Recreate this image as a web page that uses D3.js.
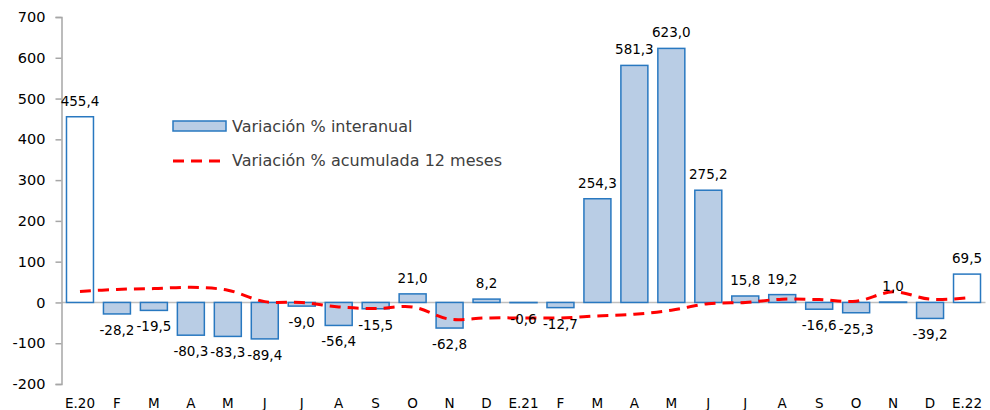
<!DOCTYPE html>
<html>
<head>
<meta charset="utf-8">
<script src="https://cdn.jsdelivr.net/npm/d3@7"></script>
<style>
  body { margin: 0; background: #fff; }
  svg { display: block; font-family: "DejaVu Sans", sans-serif; }
</style>
</head>
<body>
<script>
// Months, Jan 2020 to Jan 2022
const months = ["E.20", "F", "M", "A", "M", "J", "J", "A", "S", "O", "N", "D",
                "E.21", "F", "M", "A", "M", "J", "J", "A", "S", "O", "N", "D", "E.22"];

// Variación % interanual (bars)
const interanual = [455.4, -28.2, -19.5, -80.3, -83.3, -89.4, -9.0, -56.4, -15.5, 21.0, -62.8, 8.2,
                    -0.6, -12.7, 254.3, 581.3, 623.0, 275.2, 15.8, 19.2, -16.6, -25.3, 1.0, -39.2, 69.5];

// Variación % acumulada 12 meses (dashed line)
const acumulada = [27, 32, 34, 37, 30, 2, 0, -11, -15, -11, -41, -38,
                   -38, -38, -33, -29, -19, -3, 0, 8, 7, 3, 26, 8, 11];

const yTicks = [-200, -100, 0, 100, 200, 300, 400, 500, 600, 700];

const width = 990;
const height = 410;

const svg = d3.select("body").append("svg")
    .attr("width", width)
    .attr("height", height);

const x = d3.scaleBand()
    .domain(d3.range(months.length))
    .range([61.5, 985.5])
    .paddingInner(0.27)
    .paddingOuter(0.135);

const y = d3.scaleLinear()
    .domain([-200, 700])
    .range([384, 17]);

// plain hyphen and decimal comma, like the original
const fmt = v => d3.format(".1f")(v).replace(".", ",").replace("\u2212", "-");
const fmtTick = v => d3.format("d")(v).replace("\u2212", "-");

// zero line
svg.append("line")
    .attr("x1", x.range()[0]).attr("x2", x.range()[1])
    .attr("y1", y(0)).attr("y2", y(0))
    .attr("stroke", "#bfbfbf").attr("stroke-width", 1.5);

// bars
svg.append("g").selectAll("rect")
    .data(interanual)
    .join("rect")
    .attr("x", (d, i) => x(i))
    .attr("width", x.bandwidth())
    .attr("y", d => y(Math.max(0, d)))
    .attr("height", d => Math.abs(y(d) - y(0)))
    .attr("fill", (d, i) => (i === 0 || i === months.length - 1) ? "#ffffff" : "#b9cde5")
    .attr("stroke", "#2878c0")
    .attr("stroke-width", 1.5);

// y axis
const yAxis = svg.append("g")
    .attr("transform", `translate(${x.range()[0]},0)`)
    .call(d3.axisLeft(y).tickValues(yTicks).tickSize(6).tickPadding(10).tickFormat(fmtTick));
yAxis.select(".domain").attr("stroke", "#a6a6a6").attr("stroke-width", 1.5);
yAxis.selectAll(".tick line").attr("stroke", "#a6a6a6").attr("stroke-width", 1.5);
yAxis.selectAll(".tick text")
    .attr("font-size", 14.5)
    .attr("fill", "#000")
    .attr("font-family", "DejaVu Sans, sans-serif");

// month labels
svg.append("g").selectAll("text")
    .data(months)
    .join("text")
    .attr("x", (d, i) => x(i) + x.bandwidth() / 2)
    .attr("y", 408)
    .attr("text-anchor", "middle")
    .attr("font-size", 13.5)
    .attr("fill", "#000")
    .text(d => d);

// dashed line
const line = d3.line()
    .x((d, i) => x(i) + x.bandwidth() / 2)
    .y(d => y(d))
    .curve(d3.curveCatmullRom.alpha(0.5));

svg.append("path")
    .datum(acumulada)
    .attr("d", line)
    .attr("fill", "none")
    .attr("stroke", "#ff0000")
    .attr("stroke-width", 3)
    .attr("stroke-dasharray", "11,7");

// data labels
svg.append("g").selectAll("text")
    .data(interanual)
    .join("text")
    .attr("x", (d, i) => x(i) + x.bandwidth() / 2)
    .attr("y", d => d >= 0 ? y(d) - 11 : y(d) + 21)
    .attr("text-anchor", "middle")
    .attr("font-size", 13.5)
    .attr("fill", "#000")
    .text(d => fmt(d));

// legend
const legend = svg.append("g");
legend.append("rect")
    .attr("x", 173).attr("y", 121)
    .attr("width", 53).attr("height", 10)
    .attr("fill", "#b9cde5")
    .attr("stroke", "#2878c0")
    .attr("stroke-width", 1.5);
legend.append("text")
    .attr("x", 232).attr("y", 132)
    .attr("font-size", 16)
    .attr("fill", "#404040")
    .text("Variación % interanual");
legend.append("line")
    .attr("x1", 173).attr("x2", 227)
    .attr("y1", 161).attr("y2", 161)
    .attr("stroke", "#ff0000")
    .attr("stroke-width", 3)
    .attr("stroke-dasharray", "11,7");
legend.append("text")
    .attr("x", 232).attr("y", 166)
    .attr("font-size", 16)
    .attr("fill", "#404040")
    .text("Variación % acumulada 12 meses");
</script>
</body>
</html>
